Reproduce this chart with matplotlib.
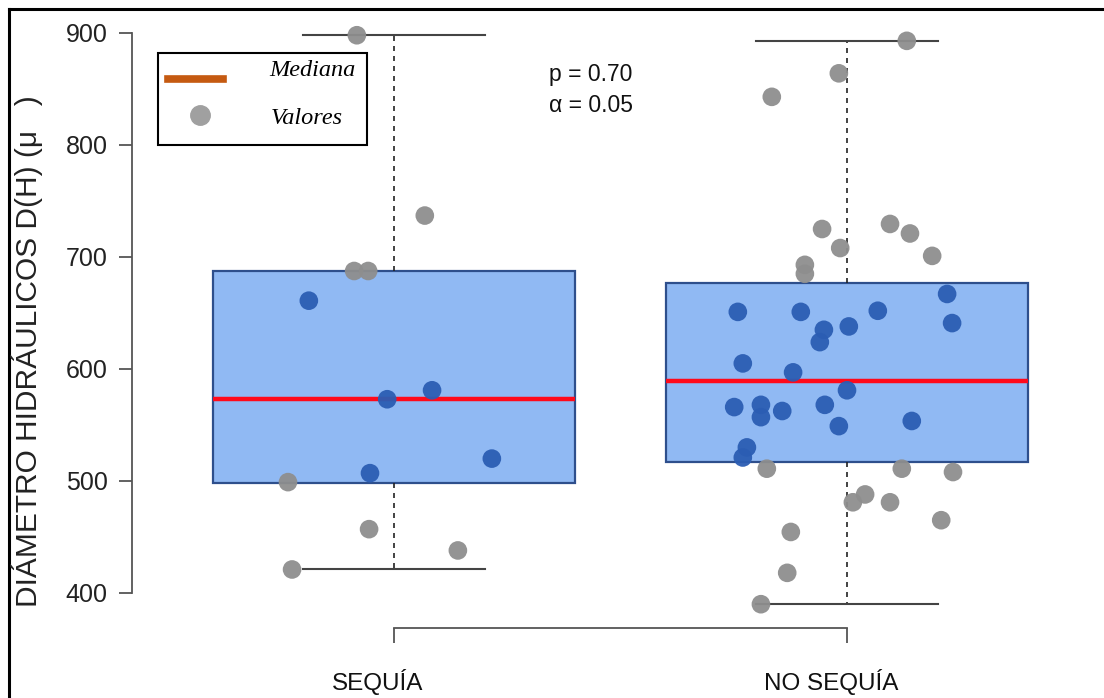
import matplotlib.pyplot as plt
from matplotlib.lines import Line2D
from matplotlib.patches import Rectangle
from matplotlib.transforms import ScaledTranslation

# group labels and box statistics
groups = ["SEQUÍA", "NO SEQUÍA"]
positions = [1, 2]
q1 = [498, 517]
median = [573, 589]
q3 = [687.5, 677]
whis_lo = [421, 390]
whis_hi = [898, 893]

# jittered points: x position and value
x_seq = [0.918, 1.068, 0.812, 0.912, 0.943, 0.985, 1.084, 1.216, 0.947, 0.766,
         0.945, 1.141, 0.775]
v_seq = [898, 737, 661, 687.5, 687.5, 573, 581, 520, 507, 499, 457, 438, 421]

x_noseq = [2.132, 1.982, 1.834, 1.945, 2.095, 2.139, 1.985, 2.188, 1.907, 1.907,
           2.221, 1.759, 1.898, 2.068, 2.232, 1.949, 2.004, 1.940, 1.770, 1.881,
           2.000, 1.751, 1.810, 1.810, 1.857, 1.951, 1.982, 2.143, 1.779, 1.770,
           1.823, 2.121, 2.234, 2.040, 2.013, 2.095, 2.208, 1.876, 1.868, 1.810]
v_noseq = [893, 864, 843, 725, 729.5, 721, 708, 701, 693, 685,
           667, 651, 651, 652, 641, 635, 638, 624, 605, 597,
           581, 566, 568, 557, 562.5, 568, 549, 553.6, 530, 521,
           511, 511, 508, 488, 481, 481, 465, 454.5, 418, 390]

y_ticks = [400, 500, 600, 700, 800, 900]
p_value = "p = 0.70"
alpha_value = "α = 0.05"

W, H = 1104, 698
fig = plt.figure(figsize=(W / 100, H / 100), dpi=100)
plt.rcParams['font.family'] = ['Liberation Sans', 'DejaVu Sans']

def fx(px):
    return px / W

def fy(py):
    return 1 - py / H

ax = fig.add_axes([fx(132), fy(628), fx(1095) - fx(132), fy(15) - fy(628)])
ax.set_xlim(1 - 262 / 453, 2 + 248 / 453)
ax.set_ylim(900 - (628 - 33) / 1.12, 900 + 18 / 1.12)

stats = []
for i in range(2):
    stats.append(dict(med=median[i], q1=q1[i], q3=q3[i],
                      whislo=whis_lo[i], whishi=whis_hi[i], fliers=[]))

ax.bxp(stats, positions=positions, widths=0.8, capwidths=0.4,
       patch_artist=True, showfliers=False,
       boxprops=dict(facecolor='#90b9f3', edgecolor='#2e4f8c', linewidth=1.6),
       medianprops=dict(color='#ff0a1a', linewidth=3.2),
       whiskerprops=dict(color='#222222', linewidth=1.2, linestyle=(0, (3, 3))),
       capprops=dict(color='#444444', linewidth=1.5))

for xs, vs, i in [(x_seq, v_seq, 0), (x_noseq, v_noseq, 1)]:
    cols = ['#2b5db3' if q1[i] + 1 < v < q3[i] - 1 else '#8e8e8e' for v in vs]
    ax.scatter(xs, vs, s=180, c=cols, alpha=0.95, linewidths=0, zorder=4)

# R-style axes
for s in ['top', 'right']:
    ax.spines[s].set_visible(False)
ax.spines['left'].set_bounds(400, 900)
ax.spines['bottom'].set_bounds(1, 2)
ax.spines['left'].set_color('#555555')
ax.spines['bottom'].set_color('#555555')
ax.spines['left'].set_linewidth(1.3)
ax.spines['bottom'].set_linewidth(1.3)
ax.set_yticks(y_ticks)
ax.set_yticklabels([str(t) for t in y_ticks], fontsize=18, color='#222222')
ax.set_xticks(positions)
ax.set_xticklabels(groups, fontsize=17.5, color='#111111')
ax.tick_params(axis='y', length=9.4, width=1.3, color='#555555', pad=8)
ax.tick_params(axis='x', length=10.8, width=1.3, color='#555555', pad=19)
for lab in ax.get_xticklabels():
    lab.set_transform(lab.get_transform() + ScaledTranslation(-0.16, 0, fig.dpi_scale_trans))
ax.patch.set_alpha(0)

fig.text(fx(27), fy(351), "DIÁMETRO HIDRÁULICOS D(H) (μ   )", rotation=90,
         ha='center', va='center', fontsize=21.5, color='#222222')

fig.text(fx(549), fy(75), p_value, ha='left', va='center', fontsize=16.5,
         color='#111111')
fig.text(fx(549), fy(106), alpha_value, ha='left', va='center', fontsize=16.5,
         color='#111111')

# legend drawn by hand
fig.add_artist(Rectangle((fx(158), fy(145)), fx(367) - fx(158), fy(53) - fy(145),
                         transform=fig.transFigure, fill=False,
                         edgecolor='black', linewidth=1.5))
fig.add_artist(Line2D([fx(168), fx(223)], [fy(79), fy(79)], color='#c55a11',
                      linewidth=5.5, transform=fig.transFigure))
fig.add_artist(Line2D([fx(200)], [fy(115)], marker='o', markersize=14,
                      color='#a0a0a0', linestyle='none', transform=fig.transFigure))
fig.text(fx(356), fy(70), "Mediana", ha='right', va='center', fontsize=17.5,
         style='italic', family=['Liberation Serif', 'DejaVu Serif'])
fig.text(fx(343), fy(118), "Valores", ha='right', va='center', fontsize=17.5,
         style='italic', family=['Liberation Serif', 'DejaVu Serif'])

# outer frame
fig.add_artist(Line2D([fx(9), 1], [fy(9), fy(9)], color='black', linewidth=2.2,
                      transform=fig.transFigure))
fig.add_artist(Line2D([fx(9), fx(9)], [fy(9), 0], color='black', linewidth=2.2,
                      transform=fig.transFigure))

fig.savefig("out.png", dpi=100)
